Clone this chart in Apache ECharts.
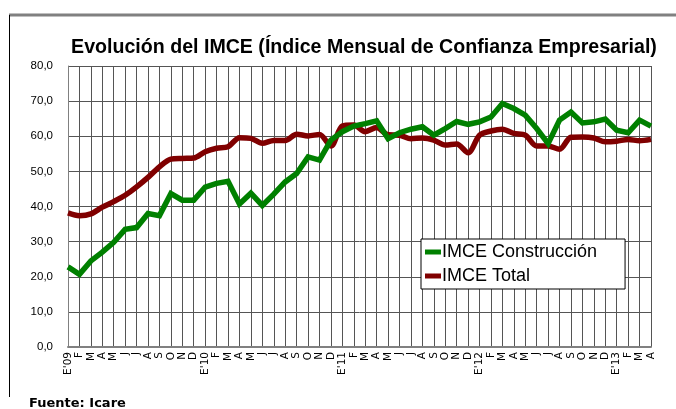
<!DOCTYPE html>
<html>
<head>
<meta charset="utf-8">
<script src="https://cdn.jsdelivr.net/npm/echarts@6/dist/echarts.min.js"></script>
<style>
  html, body { margin: 0; padding: 0; background: #fff; }
  #chart { width: 676px; height: 409px; }
</style>
</head>
<body>
<div id="chart"></div>
<script>
const months = [
  "E'09", 'F', 'M', 'A', 'M', 'J', 'J', 'A', 'S', 'O', 'N', 'D',
  "E'10", 'F', 'M', 'A', 'M', 'J', 'J', 'A', 'S', 'O', 'N', 'D',
  "E'11", 'F', 'M', 'A', 'M', 'J', 'J', 'A', 'S', 'O', 'N', 'D',
  "E'12", 'F', 'M', 'A', 'M', 'J', 'J', 'A', 'S', 'O', 'N', 'D',
  "E'13", 'F', 'M', 'A'
];

// IMCE Construcción
const construccion = [
  22.8, 20.7, 24.5, 27.0, 29.8, 33.5, 34.0, 38.0, 37.4, 43.7, 41.8, 41.8,
  45.5, 46.6, 47.2, 40.7, 43.8, 40.3, 43.5, 47.0, 49.4, 54.1, 53.2, 58.9,
  61.3, 62.9, 63.6, 64.4, 59.3, 61.0, 62.0, 62.7, 60.3, 62.2, 64.2, 63.4,
  64.1, 65.5, 69.3, 67.9, 66.0, 62.2, 57.9, 64.6, 66.9, 63.8, 64.1, 64.9,
  61.7, 61.0, 64.6, 62.9
];

// IMCE Total
const total = [
  38.2, 37.4, 37.9, 39.8, 41.4, 43.2, 45.6, 48.3, 51.3, 53.5, 53.7, 53.8,
  55.6, 56.6, 57.0, 59.6, 59.4, 58.0, 58.8, 58.8, 60.6, 60.1, 60.5, 57.2,
  62.9, 63.2, 61.3, 62.5, 60.4, 60.3, 59.3, 59.5, 58.9, 57.5, 57.8, 55.3,
  60.3, 61.5, 62.0, 60.8, 60.3, 57.2, 57.2, 56.3, 59.7, 59.8, 59.5, 58.4,
  58.6, 59.1, 58.7, 59.1
];

const chart = echarts.init(document.getElementById('chart'));

const option = {
  backgroundColor: '#fff',
  animation: false,
  title: {
    text: 'Evolución del IMCE (Índice Mensual de Confianza Empresarial)',
    left: 359,
    textAlign: 'center',
    top: 33,
    textStyle: {
      fontFamily: 'Liberation Sans, Arial, sans-serif',
      fontSize: 19.6,
      fontWeight: 'bold',
      color: '#000'
    }
  },
  grid: { left: 68, right: 25, top: 66, bottom: 62 },
  legend: {
    orient: 'vertical',
    left: 421,
    top: 239,
    padding: [3, 28, 3, 4],
    itemGap: 4,
    itemWidth: 16,
    itemHeight: 5,
    icon: 'rect',
    borderColor: '#000',
    borderWidth: 1,
    backgroundColor: '#fff',
    textStyle: {
      fontFamily: 'Liberation Sans, Arial, sans-serif',
      fontSize: 18,
      lineHeight: 20,
      color: '#000',
      padding: [0, 0, 0, -4]
    },
    data: ['IMCE Construcción', 'IMCE Total']
  },
  xAxis: {
    type: 'category',
    boundaryGap: false,
    data: months,
    axisLine: { lineStyle: { color: '#808080', width: 2 } },
    axisTick: { show: false },
    axisLabel: {
      interval: 0,
      rotate: 90,
      fontFamily: 'DejaVu Sans, sans-serif',
      fontSize: 10.5,
      color: '#000',
      margin: 5
    },
    splitLine: { show: true, interval: 0, lineStyle: { color: '#555', width: 1 } }
  },
  yAxis: {
    type: 'value',
    min: 0,
    max: 80,
    interval: 10,
    axisLine: { show: true, lineStyle: { color: '#808080', width: 1 } },
    axisTick: { show: false },
    axisLabel: {
      fontFamily: 'Liberation Sans, Arial, sans-serif',
      fontSize: 11.5,
      color: '#000',
      margin: 15,
      formatter: v => v.toFixed(1).replace('.', ',')
    },
    splitLine: { lineStyle: { color: '#555', width: 1 } }
  },
  series: [
    {
      name: 'IMCE Total',
      type: 'line',
      data: total,
      smooth: 0.3,
      symbol: 'none',
      color: '#800000',
      lineStyle: { width: 5.5, color: '#800000' }
    },
    {
      name: 'IMCE Construcción',
      type: 'line',
      data: construccion,
      symbol: 'none',
      color: '#008000',
      lineStyle: { width: 5.5, color: '#008000', join: 'miter' }
    }
  ],
  graphic: [
    {
      type: 'line',
      shape: { x1: 9, y1: 15, x2: 676, y2: 15 },
      style: { stroke: '#808080', lineWidth: 3 }
    },
    {
      type: 'line',
      shape: { x1: 9.5, y1: 15, x2: 9.5, y2: 397 },
      style: { stroke: '#000', lineWidth: 1 }
    },
    {
      type: 'text',
      left: 29,
      top: 397,
      style: {
        text: 'Fuente: Icare',
        font: 'bold 13px DejaVu Sans, sans-serif',
        fill: '#000'
      }
    }
  ]
};

chart.setOption(option);
</script>
</body>
</html>
